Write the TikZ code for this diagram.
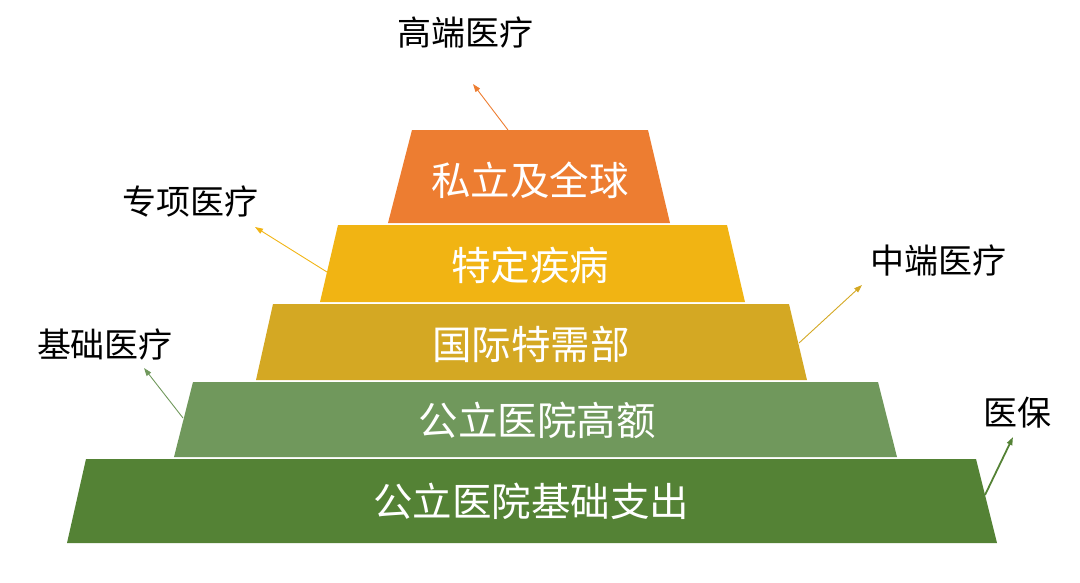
\documentclass[tikz,border=0pt]{standalone}
\usepackage{fontspec}
\setmainfont{Noto Sans CJK SC}
\usetikzlibrary{arrows.meta}
\definecolor{cOrange}{HTML}{ED7D31}
\definecolor{cYellow}{HTML}{F1B413}
\definecolor{cMustard}{HTML}{D4A823}
\definecolor{cLgreen}{HTML}{70985C}
\definecolor{cDgreen}{HTML}{548235}
\begin{document}
\begin{tikzpicture}[x=1pt,y=-1pt,
  layertext/.style={text=white,font=\fontsize{39.5}{41}\selectfont,inner sep=0pt},
  sidelabel/.style={text=black,font=\fontsize{34}{36}\selectfont,inner sep=0pt},
  pointer/.style={-{Triangle[length=8pt,width=5.5pt]},line width=0.9pt}]
\useasboundingbox (0,0) rectangle (1080,582);
% layers
\fill[cOrange] (412,130) -- (648,130) -- (670,223) -- (388,223) -- cycle;
\fill[cYellow] (338,225) -- (727,225) -- (745,302) -- (320,302) -- cycle;
\fill[cMustard] (273,304) -- (789,304) -- (807,380) -- (256,380) -- cycle;
\fill[cLgreen] (193,382) -- (878,382) -- (897,457) -- (174,457) -- cycle;
\fill[cDgreen] (86,459) -- (976,459) -- (997,543) -- (67,543) -- cycle;
\node[layertext] (l1) at (530,180) {私立及全球};
\node[layertext] (l2) at (530,265) {特定疾病};
\node[layertext] (l3) at (531,344) {国际特需部};
\node[layertext] (l4) at (537,420) {公立医院高额};
\node[layertext] (l5) at (531,501) {公立医院基础支出};
% labels
\node[sidelabel] (t1) at (465,33) {高端医疗};
\node[sidelabel] (t2) at (190,202) {专项医疗};
\node[sidelabel] (t3) at (105,345) {基础医疗};
\node[sidelabel] (t4) at (938,261) {中端医疗};
\node[sidelabel] (t5) at (1017,413) {医保};
% arrow anchors
\coordinate (s1) at (508,130); \coordinate (e1) at (473,84);
\coordinate (s2) at (327,272); \coordinate (e2) at (255,227);
\coordinate (s3) at (183,418); \coordinate (e3) at (144,368);
\coordinate (s4) at (799,343); \coordinate (e4) at (862,285);
\coordinate (s5) at (985,495); \coordinate (e5) at (1013,437);
\draw[pointer,cOrange] (s1) -- (e1);
\draw[pointer,cYellow] (s2) -- (e2);
\draw[pointer,cLgreen] (s3) -- (e3);
\draw[pointer,cMustard] (s4) -- (e4);
\draw[pointer,cDgreen,line width=1.8pt] (s5) -- (e5);
\end{tikzpicture}
\end{document}
